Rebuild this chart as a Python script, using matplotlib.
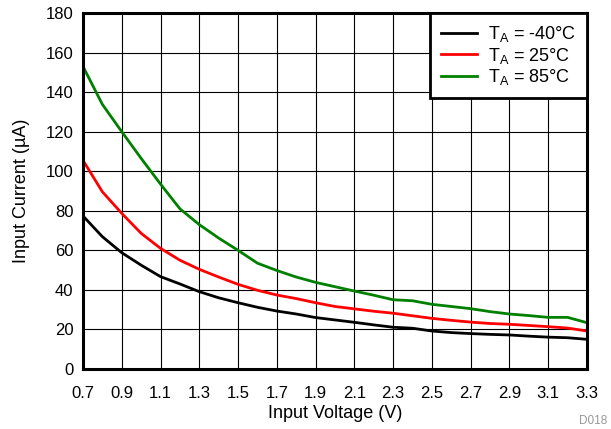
import numpy as np
import matplotlib.pyplot as plt

plt.rcParams['font.family'] = ['Liberation Sans', 'DejaVu Sans']

# Input voltage (V)
voltage = [0.7, 0.8, 0.9, 1.0, 1.1, 1.2, 1.3, 1.4, 1.5, 1.6, 1.7, 1.8, 1.9, 2.0,
           2.1, 2.2, 2.3, 2.4, 2.5, 2.6, 2.7, 2.8, 2.9, 3.0, 3.1, 3.2, 3.3]

# Input current (uA) per temperature
cur_m40 = [77.4, 66.9, 58.8, 52.5, 46.7, 43.0, 39.1, 36.0, 33.5, 31.2, 29.3, 27.8, 26.0, 24.8,
           23.6, 22.3, 21.1, 20.6, 19.2, 18.4, 17.9, 17.5, 17.2, 16.6, 16.1, 15.8, 15.0]
cur_25 = [105.5, 89.6, 78.7, 68.6, 61.0, 55.0, 50.4, 46.5, 42.8, 39.8, 37.4, 35.6, 33.5, 31.6,
          30.4, 29.2, 28.2, 26.9, 25.6, 24.6, 23.7, 23.0, 22.6, 22.0, 21.4, 20.7, 19.2]
cur_85 = [153.0, 133.8, 120.0, 106.5, 93.5, 81.0, 73.0, 66.2, 60.0, 53.5, 49.8, 46.5, 43.8, 41.6,
          39.4, 37.3, 35.0, 34.5, 32.7, 31.6, 30.5, 29.0, 27.8, 27.0, 26.1, 26.1, 23.4]

xticks = [0.7, 0.9, 1.1, 1.3, 1.5, 1.7, 1.9, 2.1, 2.3, 2.5, 2.7, 2.9, 3.1, 3.3]
yticks = [0, 20, 40, 60, 80, 100, 120, 140, 160, 180]

fig = plt.figure(figsize=(6.11, 4.29), dpi=100)
ax = fig.add_axes([0.1358, 0.1399, 0.8249, 0.8298])

ax.plot(voltage, cur_m40, color='black', lw=2, label=r'T$_\mathregular{A}$ = -40°C')
ax.plot(voltage, cur_25, color='#ff0000', lw=2, label=r'T$_\mathregular{A}$ = 25°C')
ax.plot(voltage, cur_85, color='#008000', lw=2, label=r'T$_\mathregular{A}$ = 85°C')

ax.set_xlim(0.7, 3.3)
ax.set_ylim(0, 180)
ax.set_xticks(xticks)
ax.set_xticklabels([f'{v:.1f}' for v in xticks])
ax.set_yticks(yticks)
ax.grid(True, color='black', lw=0.8)
ax.tick_params(length=0, labelsize=12)
ax.tick_params(axis='x', pad=12)
ax.tick_params(axis='y', pad=7)
for s in ax.spines.values():
    s.set_linewidth(2.2)

ax.set_xlabel('Input Voltage (V)', fontsize=13, labelpad=3)
ax.set_ylabel('Input Current (µA)', fontsize=13, labelpad=11)

leg = ax.legend(loc='upper right', fontsize=13, fancybox=False, framealpha=1,
                borderaxespad=0, handlelength=2.0, handletextpad=0.6,
                labelspacing=0.1, borderpad=0.6)
leg.get_frame().set_edgecolor('black')
leg.get_frame().set_linewidth(2)

fig.text(0.948, 0.012, 'D018', color='#999999', fontsize=8.5)

fig.savefig('out.png', dpi=100)
